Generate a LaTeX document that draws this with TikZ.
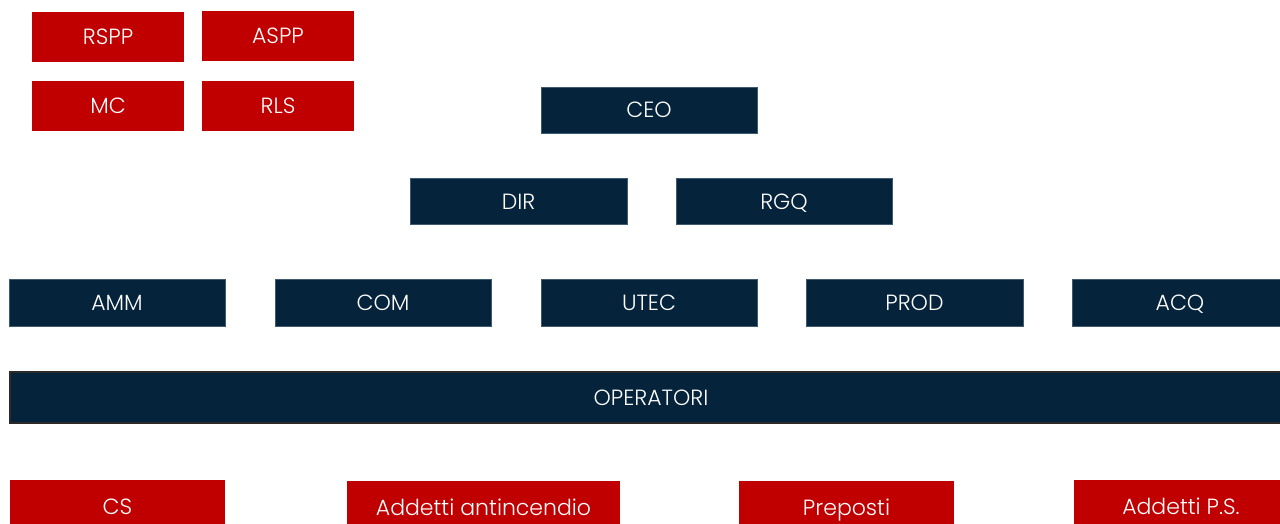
\documentclass[tikz,border=0pt]{standalone}
\usepackage{fontspec}
\setmainfont{Poppins}[UprightFont=* Light]
\definecolor{redbox}{HTML}{C00000}
\definecolor{navy}{HTML}{05233A}
\definecolor{navyedge}{HTML}{3E5A70}
\definecolor{opedge}{HTML}{2A2A2A}
\begin{document}
\begin{tikzpicture}[x=1pt,y=-1pt,
  base/.style={rectangle,inner sep=0pt,text=white,font=\fontsize{22}{26}\selectfont,text height=16pt,text depth=0pt},
  rbox/.style={base,fill=redbox,minimum height=50pt,minimum width=152pt},
  nbox/.style={base,fill=navy,draw=navyedge,line width=0.8pt,minimum height=46pt,minimum width=216pt},
  bbox/.style={base,fill=redbox,minimum height=48pt}]
\useasboundingbox (0,0) rectangle (1280,524);
\node[rbox] (rspp) at (108,37) {RSPP};
\node[rbox] (aspp) at (278,36) {ASPP};
\node[rbox] (mc) at (108,106) {MC};
\node[rbox] (rls) at (278,106) {RLS};
\node[nbox] (ceo) at (649,110) {CEO};
\node[nbox,minimum width=217pt] (dir) at (518.5,201) {DIR};
\node[nbox] (rgq) at (784,201) {RGQ};
\node[nbox,minimum height=47pt] (amm) at (117,302.5) {AMM};
\node[nbox,minimum height=47pt] (com) at (383,302.5) {COM};
\node[nbox,minimum height=47pt] (utec) at (649,302.5) {UTEC};
\node[nbox,minimum height=47pt,minimum width=217pt] (prod) at (914.5,302.5) {PROD};
\node[nbox,minimum height=47pt] (acq) at (1180,302.5) {ACQ};
\node[base,fill=navy,draw=opedge,line width=2pt,minimum width=1282pt,minimum height=51pt] (op) at (651,397.5) {OPERATORI};
\node[bbox,minimum width=215pt,minimum height=52pt] (cs) at (117.5,506) {CS};
\node[bbox,minimum width=273pt,minimum height=52pt] (aa) at (483.5,507) {Addetti antincendio};
\node[bbox,minimum width=215pt,minimum height=52pt] (prep) at (846.5,507) {Preposti};
\node[bbox,minimum width=214pt,minimum height=52pt] (aps) at (1181,506) {Addetti P.S.};
\end{tikzpicture}
\end{document}
